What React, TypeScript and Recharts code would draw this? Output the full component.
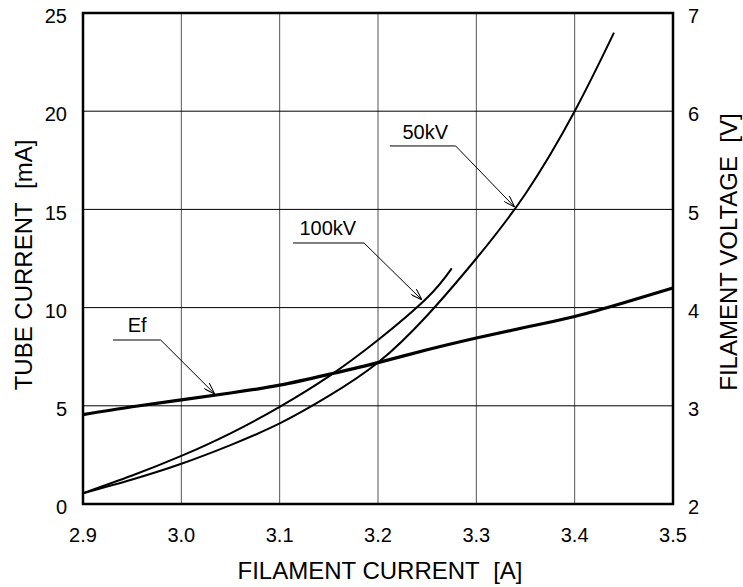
import React from "react";
import {
  LineChart,
  Line,
  XAxis,
  YAxis,
  CartesianGrid,
  ReferenceLine,
  ReferenceArea,
  ReferenceDot,
  Label,
} from "recharts";

// filament current [A] ticks
const xTicks = [2.9, 3.0, 3.1, 3.2, 3.3, 3.4, 3.5];
const tubeTicks = [0, 5, 10, 15, 20, 25];
const voltTicks = [2, 3, 4, 5, 6, 7];

// 50kV tube current [mA]
const kv50Current = [2.9, 2.95, 3.0, 3.05, 3.1, 3.15, 3.2, 3.25, 3.3, 3.35, 3.4, 3.44];
const kv50Tube = [0.55, 1.25, 2.05, 3.0, 4.1, 5.5, 7.2, 9.6, 12.5, 15.8, 20.0, 24.0];

// 100kV tube current [mA]
const kv100Current = [2.9, 2.95, 3.0, 3.05, 3.1, 3.15, 3.2, 3.25, 3.275];
const kv100Tube = [0.55, 1.45, 2.45, 3.6, 4.95, 6.5, 8.35, 10.5, 12.0];

// Ef filament voltage [V]
const efCurrent = [2.9, 2.95, 3.0, 3.05, 3.1, 3.15, 3.2, 3.25, 3.3, 3.35, 3.4, 3.45, 3.5];
const efVoltage = [2.91, 2.99, 3.06, 3.13, 3.21, 3.32, 3.44, 3.57, 3.69, 3.8, 3.91, 4.05, 4.2];

const kv50Data = kv50Current.map((x, i) => ({ x, y: kv50Tube[i] }));
const kv100Data = kv100Current.map((x, i) => ({ x, y: kv100Tube[i] }));
const efData = efCurrent.map((x, i) => ({ x, v: efVoltage[i] }));

// leader lines for the curve names, in data units (x in A, y in mA)
const callouts = [
  { name: "50kV", text: [3.248, 18.95], elbow: [[3.212, 18.23], [3.279, 18.23]], tip: [3.339, 15.12] },
  { name: "100kV", text: [3.149, 14.05], elbow: [[3.1136, 13.29], [3.1858, 13.29]], tip: [3.2447, 10.39] },
  { name: "Ef", text: [2.955, 9.11], elbow: [[2.9305, 8.35], [2.979, 8.35]], tip: [3.034, 5.6] },
];

const FONT = '"Liberation Sans", Arial, Helvetica, sans-serif';

const arrowLine = (p: any) => (
  <line
    x1={p.x1}
    y1={p.y1}
    x2={p.x2}
    y2={p.y2}
    stroke="#000"
    strokeWidth={1}
    markerEnd="url(#openArrow)"
  />
);

export default function App() {
  return (
    <div style={{ position: "absolute", left: 0, top: 0, width: 743, height: 587, background: "#fff" }}>
      <svg width={0} height={0} style={{ position: "absolute" }}>
        <defs>
          <marker
            id="openArrow"
            viewBox="0 0 12 8"
            refX={12}
            refY={4}
            markerWidth={12}
            markerHeight={8}
            markerUnits="userSpaceOnUse"
            orient="auto"
          >
            <path d="M0,0 L12,4 L0,8" fill="none" stroke="#000" strokeWidth={1} />
          </marker>
        </defs>
      </svg>
      <LineChart
        width={743}
        height={587}
        margin={{ top: 13, right: 0, bottom: 0, left: 0 }}
        style={{ fontFamily: FONT }}
      >
        <CartesianGrid horizontal={false} stroke="#555" strokeWidth={1} />
        <CartesianGrid vertical={false} stroke="#000" strokeWidth={1} />
        <XAxis
          dataKey="x"
          type="number"
          domain={[2.9, 3.5]}
          ticks={xTicks}
          allowDataOverflow
          height={83}
          axisLine={false}
          tickLine={false}
          tickSize={24}
          tickMargin={0}
          tick={{ fontSize: 20, fill: "#000" }}
          tickFormatter={(v: number) => v.toFixed(1)}
        >
          <Label
            content={() => (
              <text x={380} y={579} textAnchor="middle" fontSize={24} fill="#000" fontFamily={FONT}>
                FILAMENT CURRENT{"\u00a0\u00a0"}[A]
              </text>
            )}
          />
        </XAxis>
        <YAxis
          domain={[0, 25]}
          ticks={tubeTicks}
          width={83}
          axisLine={false}
          tickLine={false}
          tickSize={16}
          tickMargin={0}
          tick={{ fontSize: 20, fill: "#000", dy: 3 }}
        >
          <Label
            content={() => (
              <text
                x={32}
                y={265}
                textAnchor="middle"
                fontSize={24}
                fill="#000"
                fontFamily={FONT}
                transform="rotate(-90, 32, 265)"
              >
                TUBE CURRENT{"\u00a0\u00a0"}[mA]
              </text>
            )}
          />
        </YAxis>
        <YAxis
          yAxisId="right"
          orientation="right"
          domain={[2, 7]}
          ticks={voltTicks}
          width={70}
          axisLine={false}
          tickLine={false}
          tickSize={15}
          tickMargin={0}
          tick={{ fontSize: 20, fill: "#000", dy: 3 }}
        >
          <Label
            content={() => (
              <text
                x={737}
                y={252}
                textAnchor="middle"
                fontSize={24}
                fill="#000"
                fontFamily={FONT}
                transform="rotate(-90, 737, 252)"
              >
                FILAMENT VOLTAGE{"\u00a0\u00a0"}[V]
              </text>
            )}
          />
        </YAxis>

        <Line
          data={kv50Data}
          dataKey="y"
          type="natural"
          stroke="#000"
          strokeWidth={2}
          dot={false}
          isAnimationActive={false}
        />
        <Line
          data={kv100Data}
          dataKey="y"
          type="natural"
          stroke="#000"
          strokeWidth={2}
          dot={false}
          isAnimationActive={false}
        />
        <Line
          data={efData}
          dataKey="v"
          yAxisId="right"
          type="natural"
          stroke="#000"
          strokeWidth={3.2}
          dot={false}
          isAnimationActive={false}
        />

        {callouts.map((c) => (
          <ReferenceLine
            key={c.name + "-h"}
            segment={[
              { x: c.elbow[0][0], y: c.elbow[0][1] },
              { x: c.elbow[1][0], y: c.elbow[1][1] },
            ]}
            stroke="#000"
            strokeWidth={1}
          />
        ))}
        {callouts.map((c) => (
          <ReferenceLine
            key={c.name + "-d"}
            segment={[
              { x: c.elbow[1][0], y: c.elbow[1][1] },
              { x: c.tip[0], y: c.tip[1] },
            ]}
            shape={arrowLine}
          />
        ))}
        {callouts.map((c) => (
          <ReferenceDot
            key={c.name + "-t"}
            x={c.text[0]}
            y={c.text[1]}
            r={0}
            fill="none"
            stroke="none"
            label={{ value: c.name, position: "center", fontSize: 20, fill: "#000", fontFamily: FONT }}
          />
        ))}

        <ReferenceArea x1={2.9} x2={3.5} y1={0} y2={25} fill="none" stroke="#000" strokeWidth={2.5} />
      </LineChart>
    </div>
  );
}
